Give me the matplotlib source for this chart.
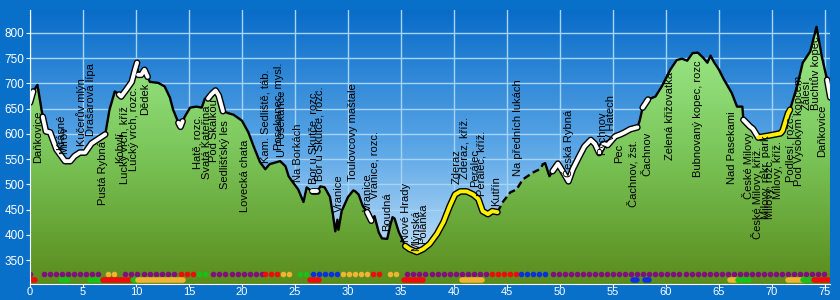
import numpy as np
import matplotlib
matplotlib.use('Agg')
import matplotlib.pyplot as plt
from matplotlib.colors import LinearSegmentedColormap
from matplotlib.patches import Polygon

plt.rcParams['font.family'] = ['Liberation Sans', 'DejaVu Sans']

# elevation profile (km, m)
km = [0.0, 0.3, 0.7, 1.2, 1.5, 1.9, 2.5, 3.3, 3.8, 4.2, 4.7, 5.2, 5.8, 7.1,
      7.5, 8.0, 8.4, 8.6, 9.1, 9.6, 9.9, 10.1, 10.2, 10.5, 10.8, 11.1, 11.3,
      12.1, 12.7, 13.2, 13.5, 14.0, 14.2, 14.4, 14.6, 15.1, 15.7, 16.2, 16.5,
      16.8, 17.1, 17.5, 17.8, 18.2, 18.7, 19.2, 20.0, 20.6, 21.1, 21.7, 22.2,
      22.6, 23.6, 24.1, 24.4, 24.8, 25.3, 25.8, 26.1, 26.6, 27.1, 27.4, 27.8,
      28.3, 28.6, 28.8, 29.0, 29.1, 29.4, 30.0, 30.5, 30.7, 31.0, 31.4, 31.8,
      32.2, 32.5, 32.9, 33.2, 33.7, 34.0, 34.2, 34.4, 34.8, 35.1, 35.4, 35.8,
      36.5, 37.1, 37.7, 38.4, 39.0, 39.6, 40.1, 40.6, 41.2, 41.8, 42.3, 42.7,
      43.2, 43.6, 44.1, 44.6, 45.3, 45.9, 46.5, 47.5, 48.1, 48.4, 48.6, 49.0,
      49.3, 49.8, 50.3, 50.8, 51.2, 51.8, 52.3, 52.9, 53.3, 53.7, 54.1, 54.5,
      55.2, 55.7, 56.1, 56.6, 57.3, 57.5, 57.8, 58.3, 59.0, 59.6, 60.4, 61.0,
      61.5, 62.0, 62.5, 63.0, 63.5, 63.9, 64.2, 64.5, 65.0, 65.4, 66.2, 66.7,
      67.2, 67.3, 67.9, 68.2, 68.7, 69.8, 70.8, 71.0, 71.5, 71.7, 72.4, 72.9,
      73.6, 74.2, 74.7, 75.2, 75.5]
elev = [662, 684, 697, 634, 605, 603, 569, 546, 546, 556, 563, 563, 581, 599,
        648, 684, 678, 674, 688, 703, 727, 741, 717, 717, 727, 713, 703,
        701, 694, 672, 648, 622, 614, 625, 634, 652, 654, 652, 670,
        670, 678, 686, 676, 645, 641, 638, 626, 603, 575, 544, 530,
        540, 546, 536, 516, 504, 490, 465, 494, 486, 486, 496, 494,
        475, 437, 407, 430, 410, 447, 475, 488, 486, 480, 457, 445,
        428, 437, 405, 393, 392, 420, 435, 432, 405, 392, 378, 372,
        366, 372, 382, 402, 425, 457, 480, 486, 486, 480, 471, 447,
        441, 447, 445, 465, 484, 490, 510, 524, 530, 540, 542, 516,
        526, 541, 524, 506, 530, 555, 575, 588, 580, 562, 580, 578,
        595, 599, 603, 609, 613, 625, 652, 668, 674, 694, 727, 746,
        749, 745, 760, 761, 751, 741, 755, 743, 727, 710, 681, 654,
        654, 628, 615, 610, 593, 597, 601, 606, 640, 648, 697, 741,
        763, 812, 753, 707, 672]

white_parts = [(0.0, 0.3), (1.2, 7.1), (8.4, 10.1), (10.2, 11.1), (14.0, 14.4),
               (16.8, 18.2), (26.6, 27.1), (31.8, 32.2), (49.3, 57.3),
               (57.8, 58.3), (67.3, 68.7), (75.2, 75.5)]
yellow_parts = [(35.4, 44.1), (68.7, 71.7)]
dashed_part = (44.1, 48.4)

# coloured dot row
dot_start = [0.0, 1.3, 7.4, 9.0, 14.2, 15.9, 17.3, 22.2, 23.9, 25.5, 26.7, 29.5,
             32.4, 34.0, 35.6, 43.6, 46.3, 49.3]
dot_end = [0.0, 6.9, 8.5, 13.7, 15.4, 16.5, 22.0, 23.6, 25.0, 26.1, 29.1, 31.9,
           33.5, 35.1, 43.3, 45.9, 48.8, 75.3]
dot_color = ['purple', 'purple', 'orange', 'purple', 'red', 'green', 'purple', 'red',
             'orange', 'green', 'blue', 'orange', 'red', 'orange', 'purple', 'red',
             'blue', 'purple']

# coloured bar row
bar_start = [0.0, 2.9, 5.7, 6.9, 9.7, 10.2, 26.4, 35.3, 40.8, 56.9, 58.0, 66.0,
             66.8, 71.5, 72.9, 74.0]
bar_end = [0.5, 3.6, 6.5, 9.6, 10.1, 14.4, 27.3, 37.1, 42.6, 57.3, 58.4, 66.6,
           67.8, 72.8, 73.8, 75.4]
bar_color = ['red', 'green', 'green', 'red', 'green', 'orange', 'red', 'red',
             'orange', 'blue', 'blue', 'orange', 'green', 'orange', 'green', 'red']

palette = {'purple': '#80107E', 'red': '#F00A0A', 'orange': '#F0B430',
           'green': '#18C018', 'blue': '#0830E0'}

# waypoint names (km, elevation of the text's lower end)
label_names = ['Daňkovice', 'Krásné', 'Mírov', 'Kučerův mlýn', 'Drašarova lípa',
               'Pustá Rybná', 'Kobylí', 'Lucký vrch, kříž', 'Lucký vrch, rozc.', 'Dědek',
               'Hatě, rozc.', 'Svatá Kateřina', 'Pod Skalkou', 'Sedlišťský les',
               'Lovecká chata', 'Kam. Sedliště, táb.', 'Posekanec, mysl.', 'U Posekance',
               'Na Borkách', 'Bor u Skutče, rozc.', 'Bor u Skutče, rozc.', 'Vranice',
               'Toulovcovy maštale', 'Vranice', 'Vranice, rozc.', 'Boudná', 'Nové Hrady',
               'Mlýnská', 'Polánka', 'Zderaz', 'Zderaz, kříž.', 'Perálec', 'Perálec, kříž.',
               'Kutřín', 'Na předních lukách', 'Česká Rybná', 'Rychnov', 'V Hatech', 'Pec',
               'Čachnov, žst.', 'Čachnov', 'Zelená křižovatka', 'Bubnovaný kopec, rozc',
               'Nad Pasekami', 'České Milovy', 'České Milovy, křiž.', 'Milovy, rekr. park',
               'Milovy, rozc.', 'Milovy, kříž.', 'Podlesí, rozc.', 'Pod Vysokým kopcem',
               'Zálesí', 'Buchtův kopec', 'Daňkovice']
label_km = [0.75, 2.95, 3.2, 4.9, 5.8, 6.9, 8.5, 9.0, 9.8, 10.85,
            15.8, 16.7, 17.4, 18.4, 20.3, 22.2, 23.5, 23.8,
            25.3, 26.7, 27.3, 29.1, 30.5, 31.9, 32.5, 33.7, 35.5,
            36.4, 37.1, 40.2, 41.0, 42.0, 42.6, 44.0, 46.0, 50.8, 54.0, 54.8, 55.6,
            56.9, 58.2, 60.4, 63.0, 66.2, 67.7, 68.6, 69.4, 69.8, 70.6, 71.7, 72.5,
            73.3, 74.1, 74.7]
label_elev = [543, 568, 560, 575, 595, 460, 543, 500, 526, 638,
              530, 510, 545, 490, 445, 543, 569, 555,
              504, 500, 506, 445, 506, 447, 470, 407, 386,
              368, 382, 500, 510, 494, 476, 457, 516, 514, 559, 585, 543,
              455, 516, 549, 514, 500, 470, 391, 431, 431, 470, 504, 496,
              648, 648, 555]

km = np.array(km)
elev = np.array(elev)
x_max = 75.47
y_min, y_max = 302.6, 845.4

fig = plt.figure(figsize=(8.4, 3.0), dpi=100, facecolor='#0870C8')
ax = fig.add_axes([30 / 840, 16 / 300, 800 / 840, 274 / 300])
ax.set_xlim(0, x_max)
ax.set_ylim(y_min, y_max)

# sky
sky = LinearSegmentedColormap.from_list('sky', ['#086CC8', '#5AA6E6', '#D8EDFC'])
grad = np.linspace(0, 1, 256).reshape(-1, 1)
ax.imshow(grad, cmap=sky, aspect='auto', extent=[0, x_max, y_min, y_max],
          origin='upper', zorder=0)

# terrain
greens = LinearSegmentedColormap.from_list('greens', ['#A4F094', '#7CC85C', '#5A8C1C'])
verts = [(km[0], y_min)] + list(zip(km, elev)) + [(km[-1], y_min)]
poly = Polygon(verts, closed=True, facecolor='none', edgecolor='none')
ax.add_patch(poly)
ground = ax.imshow(grad, cmap=greens, aspect='auto', extent=[0, x_max, y_min, y_max],
                   origin='upper', zorder=2)
ground.set_clip_path(poly)

# profile line
a, b = dashed_part
m1 = km <= a
m2 = (km >= a) & (km <= b)
m3 = km >= b
ax.plot(km[m1], elev[m1], color='black', lw=1.7, zorder=4)
ax.plot(km[m2], elev[m2], color='black', lw=1.7, ls=(0, (3, 1.6)), zorder=4)
ax.plot(km[m3], elev[m3], color='black', lw=1.7, zorder=4)

for parts, col in [(white_parts, 'white'), (yellow_parts, '#FFF000')]:
    for s, e in parts:
        sel = (km >= s) & (km <= e)
        ax.plot(km[sel], elev[sel], color='black', lw=4.8, zorder=5,
                solid_capstyle='round', solid_joinstyle='round')
        ax.plot(km[sel], elev[sel], color=col, lw=2.8, zorder=6,
                solid_capstyle='round', solid_joinstyle='round')

# dot row and bar row
for s, e, c in zip(dot_start, dot_end, dot_color):
    xs = np.arange(s, e + 0.01, 0.57)
    ax.scatter(xs, np.full(len(xs), 323), s=16, color=palette[c], lw=0, zorder=7)
for s, e, c in zip(bar_start, bar_end, bar_color):
    ax.plot([s, e], [311, 311], color=palette[c], lw=4, solid_capstyle='round',
            zorder=7)

# waypoint labels
for name, x, y in zip(label_names, label_km, label_elev):
    ax.text(x, y, name, rotation=90, ha='center', va='bottom', fontsize=8,
            color='black', zorder=8)

ax.set_xticks(range(0, 80, 5))
ax.set_yticks(range(350, 850, 50))
ax.grid(color='#A6D4F8', lw=1)
ax.set_axisbelow(True)
for side in ['top', 'right']:
    ax.spines[side].set_visible(False)
for side in ['left', 'bottom']:
    ax.spines[side].set_color('white')
    ax.spines[side].set_zorder(9)
ax.tick_params(colors='white', labelcolor='white', labelsize=8.5, length=3, pad=1)
ax.tick_params(axis='x', length=2, pad=0.5, labelsize=8)

fig.savefig('out.png', dpi=100, facecolor=fig.get_facecolor())
